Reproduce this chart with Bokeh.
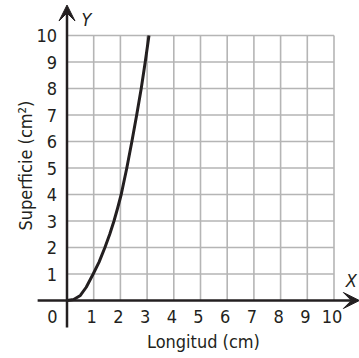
from bokeh.plotting import figure
from bokeh.models import Range1d, Arrow, VeeHead
from bokeh.core.properties import value
from bokeh.embed import file_html
from bokeh.resources import INLINE

# ---- data ----
grid_ticks = [1, 2, 3, 4, 5, 6, 7, 8, 9, 10]
x_tick_labels = ["1", "2", "3", "4", "5", "6", "7", "8", "9", "10"]
y_tick_labels = ["1", "2", "3", "4", "5", "6", "7", "8", "9", "10"]
curve_x = [0, 0.25, 0.5, 0.72, 0.98, 1.2, 1.42, 1.6, 1.76, 1.9, 2.03, 2.24, 2.43, 2.61, 2.78, 2.93, 3.07]
curve_y = [0, 0.04, 0.19, 0.5, 1, 1.45, 2, 2.5, 3, 3.5, 4, 5, 6, 7, 8, 9, 10]
x_title = "Longitud (cm)"
y_title = "Superficie (cm²)"

W, H = 359, 358
ux, uy = 26.7, 26.5          # pixels per unit
ox, oy = 66.5, 300.0         # origin inside canvas

p = figure(width=W, height=H, output_backend="svg", toolbar_location=None,
           x_axis_type=None, y_axis_type=None,
           x_range=Range1d(-ox / ux, (W - ox) / ux),
           y_range=Range1d(-(H - oy) / uy, oy / uy),
           min_border=0, min_border_left=0, min_border_right=0,
           min_border_top=0, min_border_bottom=0)
p.outline_line_color = None
p.background_fill_color = "white"
p.border_fill_color = "white"

ink = "#231f20"
gridc = "#b5b5b5"
font = value("DejaVu Sans Condensed")

# grid
p.segment(x0=grid_ticks, y0=[0] * 10, x1=grid_ticks, y1=[10] * 10,
          line_color=gridc, line_width=1.6)
p.segment(x0=[0] * 10, y0=grid_ticks, x1=[10] * 10, y1=grid_ticks,
          line_color=gridc, line_width=1.6)

# axes with arrows
p.add_layout(Arrow(x_start=-1.1, y_start=0, x_end=10.95, y_end=0,
                   line_color=ink, line_width=2.5,
                   end=VeeHead(size=16, fill_color=ink, line_color=ink, line_width=1)))
p.add_layout(Arrow(x_start=0, y_start=-1.02, x_end=0, y_end=11.15,
                   line_color=ink, line_width=2.5,
                   end=VeeHead(size=16, fill_color=ink, line_color=ink, line_width=1)))

# curve
p.line(curve_x, curve_y, line_color=ink, line_width=3, line_join="round")

# tick labels
p.text(x=grid_ticks, y=[-0.6] * 10, text=x_tick_labels, x_offset=-2,
       text_align="center", text_baseline="middle", text_font=font,
       text_font_size="18px", text_color=ink)
p.text(x=[-0.375] * 10, y=grid_ticks, text=y_tick_labels,
       text_align="right", text_baseline="middle", text_font=font,
       text_font_size="18px", text_color=ink)
p.text(x=[-0.55], y=[-0.6], text=["0"], text_align="center",
       text_baseline="middle", text_font=font, text_font_size="18px", text_color=ink)

# titles
p.text(x=[5.11], y=[-1.55], text=[x_title], text_align="center",
       text_baseline="middle", text_font=font, text_font_size="18px", text_color=ink)
p.text(x=[-1.55], y=[5.09], text=[y_title], angle=1.5708, text_align="center",
       text_baseline="middle", text_font=font, text_font_size="18px", text_color=ink)

# axis letters
p.text(x=[10.65], y=[0.75], text=["X"], text_align="center", text_baseline="middle",
       text_font=font, text_font_size="18px", text_font_style="italic", text_color=ink)
p.text(x=[0.73], y=[10.6], text=["Y"], text_align="center", text_baseline="middle",
       text_font=font, text_font_size="18px", text_font_style="italic", text_color=ink)

open("out.html", "w").write(file_html(p, INLINE))
